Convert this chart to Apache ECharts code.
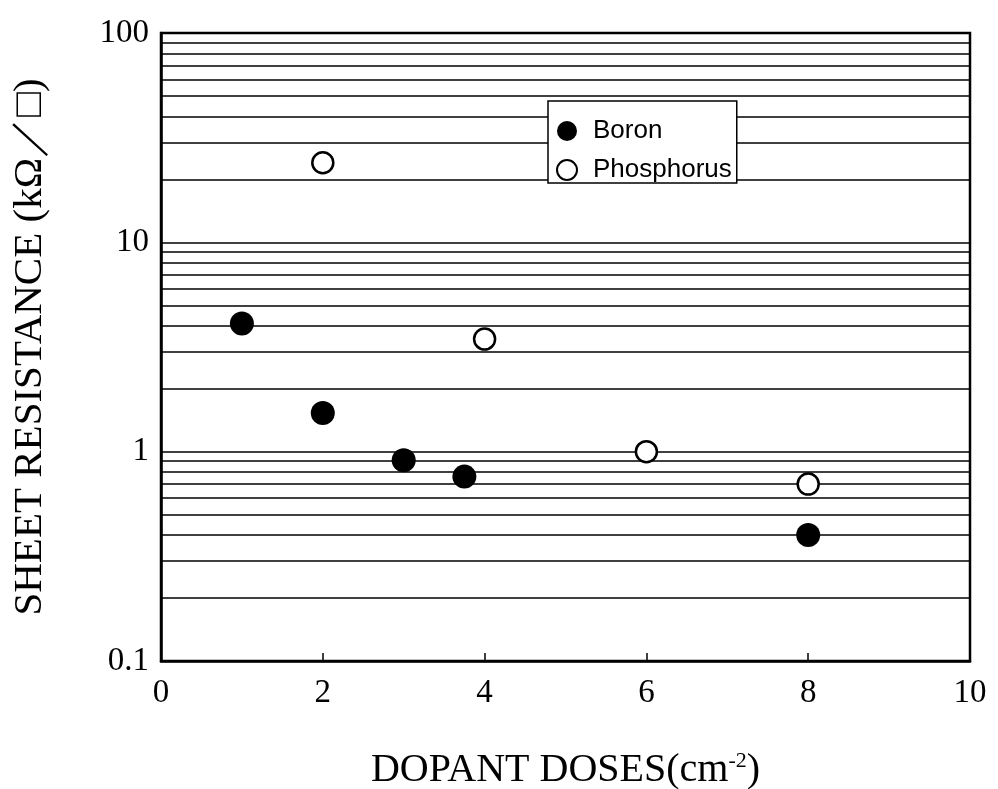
<!DOCTYPE html>
<html>
<head>
<meta charset="utf-8">
<script src="https://cdn.jsdelivr.net/npm/echarts@6/dist/echarts.min.js"></script>
<style>
  html, body { margin: 0; padding: 0; background: #fff; }
  #main { width: 998px; height: 789px; }
</style>
</head>
<body>
<div id="main"></div>
<script>
// boron points
var boronX = [1, 2, 3, 3.75, 8];
var boronY = [4.1, 1.53, 0.91, 0.76, 0.4];
// phosphorus points
var phosX = [2, 4, 6, 8];
var phosY = [24, 3.45, 1.0, 0.7];
// x ticks
var xTicks = [0, 2, 4, 6, 8, 10];
// horizontal lines between decades
var minorLines = [0.2, 0.3, 0.4, 0.5, 0.6, 0.7, 0.8, 0.9,
                  2, 3, 4, 5, 6, 7, 8, 9,
                  20, 30, 40, 50, 60, 70, 80, 90];

function pairs(xs, ys) {
    return xs.map(function (x, i) { return [x, ys[i]]; });
}

var serif = '"Liberation Serif", "DejaVu Serif", serif';

option = {
    animation: false,
    backgroundColor: '#fff',
    grid: {
        left: 161,
        top: 33,
        width: 809,
        height: 628,
        containLabel: false,
        outerBoundsMode: 'none',
        show: true,
        borderColor: '#000',
        borderWidth: 2.5,
        backgroundColor: 'transparent'
    },
    legend: {
        orient: 'vertical',
        left: 548,
        top: 101,
        padding: [17, 5, 0, 8],
        itemGap: 13,
        itemWidth: 30,
        itemHeight: 20,
        backgroundColor: '#fff',
        borderColor: '#000',
        borderWidth: 1.5,
        borderRadius: 0,
        textStyle: {
            fontFamily: '"Liberation Sans", Arial, sans-serif',
            fontSize: 26,
            lineHeight: 26,
            color: '#000',
            padding: [0, 0, 0, 6]
        },
        data: ['Boron', 'Phosphorus']
    },
    xAxis: {
        type: 'value',
        min: xTicks[0],
        max: xTicks[xTicks.length - 1],
        interval: 2,
        name: '{a|DOPANT DOSES(cm}{s|-2}{a|)}',
        nameLocation: 'middle',
        nameGap: 89,
        nameTextStyle: {
            rich: {
                a: { fontFamily: serif, fontSize: 40, color: '#000' },
                s: { fontFamily: serif, fontSize: 22, color: '#000', verticalAlign: 'top', padding: [0, 0, 18, 0] }
            }
        },
        axisLine: { show: true, lineStyle: { color: '#000', width: 2.5 } },
        axisTick: { show: true, inside: true, length: 8, lineStyle: { color: '#000', width: 1.5 } },
        axisLabel: { fontFamily: serif, fontSize: 33, color: '#000', margin: 16 },
        splitLine: { show: false }
    },
    yAxis: {
        type: 'log',
        logBase: 10,
        min: 0.1,
        max: 100,
        name: 'SHEET RESISTANCE (kΩ／□)',
        nameLocation: 'middle',
        nameGap: 110,
        nameTextStyle: { fontFamily: serif, fontSize: 41, color: '#000' },
        axisLine: { show: true, lineStyle: { color: '#000', width: 2.5 } },
        axisTick: { show: false },
        axisLabel: {
            fontFamily: serif, fontSize: 33, color: '#000', margin: 12,
            formatter: function (v) { return String(v); }
        },
        splitLine: { show: true, lineStyle: { color: '#000', width: 1.5 } }
    },
    series: [
        {
            name: 'grid',
            type: 'line',
            data: [],
            silent: true,
            markLine: {
                silent: true,
                symbol: 'none',
                z: 1,
                label: { show: false },
                lineStyle: { color: '#000', width: 1.5, type: 'solid' },
                data: minorLines.map(function (v) { return { yAxis: v }; })
            }
        },
        {
            name: 'Boron',
            type: 'scatter',
            z: 3,
            symbol: 'circle',
            symbolSize: 24,
            itemStyle: { color: '#000', opacity: 1 },
            data: pairs(boronX, boronY)
        },
        {
            name: 'Phosphorus',
            type: 'scatter',
            z: 3,
            symbol: 'circle',
            symbolSize: 21,
            itemStyle: { color: '#fff', borderColor: '#000', borderWidth: 2.5, opacity: 1 },
            data: pairs(phosX, phosY)
        }
    ]
};

var myChart = echarts.init(document.getElementById('main'));
myChart.setOption(option);
</script>
</body>
</html>
